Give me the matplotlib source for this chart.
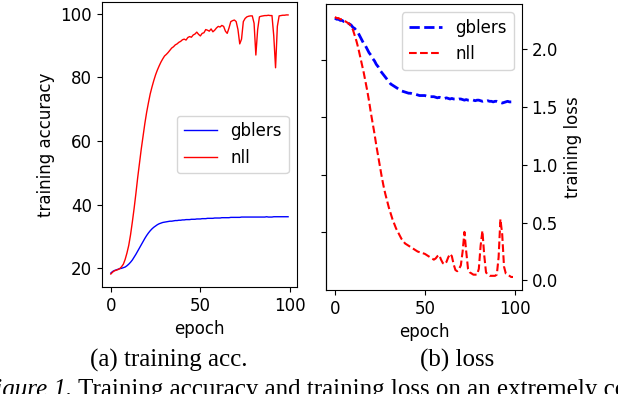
import matplotlib.pyplot as plt

# per-epoch values
epochs = list(range(100))

acc_gblers = [18.5, 19.0, 19.3, 19.5, 19.7, 19.9, 20.0, 20.2, 20.4, 20.8,
              21.3, 21.9, 22.6, 23.5, 24.4, 25.4, 26.4, 27.4, 28.4, 29.4,
              30.3, 31.1, 31.8, 32.4, 32.9, 33.3, 33.7, 34.0, 34.2, 34.4,
              34.5, 34.6, 34.7, 34.8, 34.8, 34.9, 35.0, 35.0, 35.1, 35.1,
              35.2, 35.2, 35.3, 35.3, 35.3, 35.4, 35.4, 35.4, 35.5, 35.5,
              35.5, 35.6, 35.6, 35.6, 35.7, 35.7, 35.7, 35.7, 35.8, 35.8,
              35.8, 35.8, 35.9, 35.9, 35.9, 35.9, 35.9, 36.0, 36.0, 36.0,
              36.0, 36.0, 36.0, 36.1, 36.1, 36.1, 36.1, 36.1, 36.1, 36.1,
              36.1, 36.1, 36.1, 36.1, 36.1, 36.1, 36.1, 36.2, 36.1, 36.1,
              36.1, 36.2, 36.2, 36.2, 36.2, 36.2, 36.2, 36.2, 36.2, 36.2]

acc_nll = [18.2, 18.8, 19.2, 19.4, 19.6, 19.9, 20.5, 21.3, 22.8, 24.8,
           27.2, 30.5, 34.5, 38.8, 43.5, 48.5, 53.0, 57.5, 61.5, 65.5,
           69.0, 72.0, 74.8, 77.0, 79.0, 80.8, 82.3, 83.6, 84.8, 85.8,
           86.7, 87.2, 87.8, 88.5, 89.2, 89.6, 90.2, 90.5, 91.0, 91.3,
           91.8, 92.0, 91.7, 92.5, 92.8, 92.6, 93.3, 93.6, 94.2, 93.5,
           93.0, 93.8, 94.0, 95.0, 94.8, 94.5, 95.2, 94.3, 94.8, 95.5,
           96.0, 95.8, 96.3, 96.0, 94.5, 93.8, 95.5, 97.5, 97.8, 98.0,
           97.5, 95.0, 90.5, 92.0, 97.5, 98.5, 99.0, 99.2, 99.3, 99.3,
           97.0, 87.0, 95.0, 99.0, 99.2, 99.3, 99.4, 99.4, 99.5, 99.4,
           99.4, 93.0, 83.0, 96.0, 99.3, 99.4, 99.5, 99.5, 99.6, 99.6]

loss_gblers = [2.27, 2.26, 2.26, 2.25, 2.25, 2.24, 2.24, 2.23, 2.22, 2.21,
               2.19, 2.18, 2.16, 2.14, 2.11, 2.08, 2.05, 2.03, 2.00, 1.97,
               1.95, 1.92, 1.90, 1.87, 1.85, 1.82, 1.80, 1.78, 1.76, 1.74,
               1.72, 1.70, 1.69, 1.68, 1.67, 1.66, 1.65, 1.64, 1.635, 1.63,
               1.625, 1.62, 1.62, 1.615, 1.61, 1.61, 1.605, 1.60, 1.60, 1.60,
               1.60, 1.595, 1.59, 1.59, 1.59, 1.59, 1.585, 1.58, 1.585, 1.58,
               1.58, 1.575, 1.58, 1.575, 1.57, 1.575, 1.57, 1.57, 1.565, 1.57,
               1.57, 1.565, 1.56, 1.565, 1.56, 1.56, 1.565, 1.56, 1.555, 1.56,
               1.56, 1.555, 1.55, 1.555, 1.55, 1.555, 1.55, 1.55, 1.545, 1.55,
               1.55, 1.545, 1.54, 1.535, 1.54, 1.545, 1.55, 1.545, 1.545, 1.545]

loss_nll = [2.28, 2.27, 2.27, 2.26, 2.26, 2.25, 2.24, 2.23, 2.22, 2.20,
            2.17, 2.12, 2.07, 2.01, 1.94, 1.87, 1.80, 1.72, 1.64, 1.55,
            1.45, 1.36, 1.27, 1.17, 1.08, 0.99, 0.90, 0.82, 0.75, 0.69,
            0.63, 0.58, 0.53, 0.49, 0.45, 0.42, 0.39, 0.36, 0.34, 0.32,
            0.31, 0.30, 0.29, 0.28, 0.27, 0.26, 0.25, 0.245, 0.24, 0.235,
            0.23, 0.22, 0.21, 0.20, 0.19, 0.18, 0.19, 0.21, 0.22, 0.18,
            0.15, 0.14, 0.16, 0.20, 0.23, 0.21, 0.14, 0.09, 0.08, 0.10,
            0.13, 0.25, 0.42, 0.25, 0.10, 0.07, 0.06, 0.05, 0.05, 0.05,
            0.10, 0.30, 0.43, 0.22, 0.07, 0.05, 0.04, 0.04, 0.04, 0.04,
            0.05, 0.20, 0.53, 0.40, 0.12, 0.06, 0.05, 0.04, 0.03, 0.03]

plt.rcParams["font.size"] = 12

fig = plt.figure(figsize=(6.18, 3.94), dpi=100)

# (a) training accuracy
ax1 = fig.add_axes([0.165, 0.2716, 0.3155, 0.7234])
ax1.plot(epochs, acc_gblers, color="b", lw=1, label="gblers")
ax1.plot(epochs, acc_nll, color="r", lw=1, label="nll")
ax1.set_xlabel("epoch")
ax1.set_ylabel("training accuracy")
ax1.set_yticks([20, 40, 60, 80, 100])
ax1.legend(loc="center right")

# (b) training loss, axis on the right
ax2 = fig.add_axes([0.5275, 0.264, 0.317, 0.726])
ax2.plot(epochs, loss_gblers, color="b", ls="--", lw=2, label="gblers")
ax2.plot(epochs, loss_nll, color="r", ls="--", lw=1.5, label="nll")
ax2.set_xlabel("epoch")
ax2.set_ylabel("training loss")
ax2.yaxis.set_label_position("right")
ax2.tick_params(axis="y", left=False, labelleft=False, right=True, labelright=True)
ax2.set_yticks([0.0, 0.5, 1.0, 1.5, 2.0])
ax2.legend(loc="upper right")
left_ticks = ax2.secondary_yaxis("left")
left_ticks.set_yticks([0.415, 0.915, 1.415, 1.906])
left_ticks.set_yticklabels([])

# captions
fig.text(0.2735, 0.0685, "(a) training acc.", ha="center", va="baseline",
         family="Liberation Serif", fontsize=18)
fig.text(0.7395, 0.0685, "(b) loss", ha="center", va="baseline",
         family="Liberation Serif", fontsize=18)
fig.text(-0.032, -0.0063, "Figure 1.", ha="left", va="baseline",
         family="Liberation Serif", style="italic", fontsize=18)
fig.text(0.126, -0.0063, "Training accuracy and training loss on an extremely co",
         ha="left", va="baseline", family="Liberation Serif", fontsize=18)

fig.savefig("out.png", dpi=100)
